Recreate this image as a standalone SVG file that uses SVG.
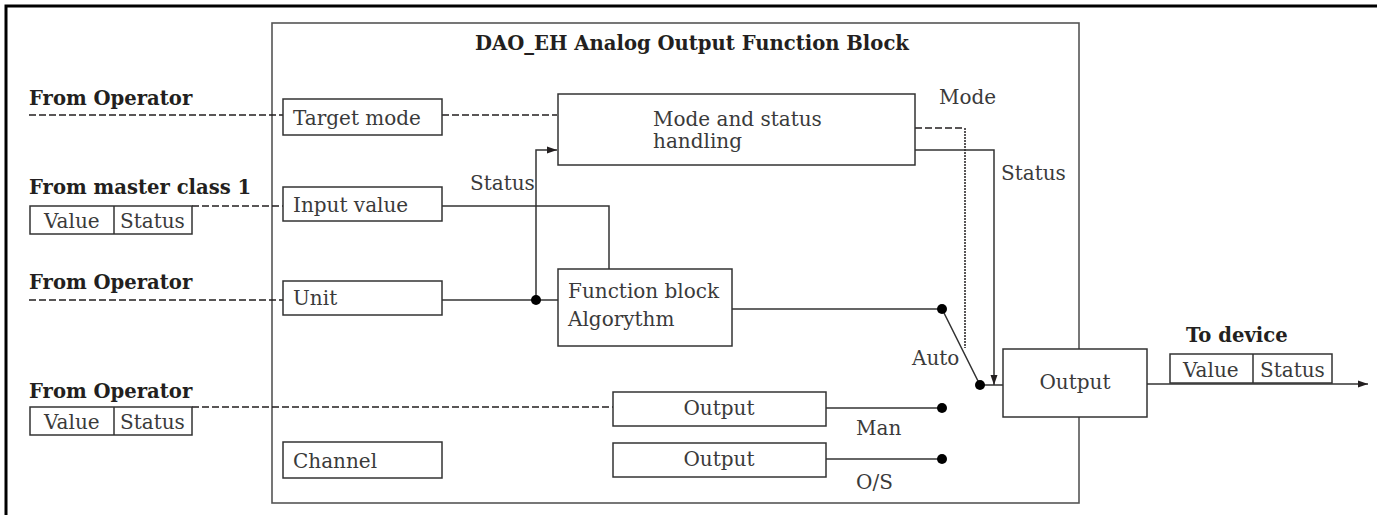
<svg xmlns="http://www.w3.org/2000/svg" width="1377" height="515" viewBox="0 0 1377 515">
<defs>
<marker id="arr" viewBox="0 0 10 10" refX="10" refY="5" markerWidth="11" markerHeight="10" markerUnits="userSpaceOnUse" orient="auto">
<path d="M0,1.5 L10,5 L0,8.5 Z" fill="#231f20"/>
</marker>
<style>
.bx{fill:#fff;stroke:#333;stroke-width:1.5}
.ln{fill:none;stroke:#333;stroke-width:1.5}
.ds{fill:none;stroke:#231f20;stroke-width:1.5;stroke-dasharray:7,3}
.dt{fill:none;stroke:#231f20;stroke-width:1.5;stroke-dasharray:2,1}
.t{font-family:"DejaVu Serif","Liberation Serif",serif;font-size:20px;fill:#3a3a3a}
.b{font-family:"DejaVu Serif","Liberation Serif",serif;font-size:19.6px;font-weight:bold;fill:#231f20}
.dot{fill:#000}
</style>
</defs>
<rect width="1377" height="515" fill="#fff"/>
<g id="frame">
<path d="M6,515 V6 H1377" fill="none" stroke="#000" stroke-width="3"/>
</g>
<g id="block">
<rect x="272" y="23" width="807" height="480" fill="none" stroke="#555" stroke-width="1.6"/>
<text class="b" x="475" y="50">DAO_EH Analog Output Function Block</text>
</g>
<g id="connectors">
<path class="ds" d="M29,115 H283"/>
<path class="ds" d="M442,115 H557"/>
<path class="ds" d="M192,206 H283"/>
<path class="ln" d="M442,206 H609 V269"/>
<path class="ds" d="M29,300 H283"/>
<path class="ln" d="M442,300 H558"/>
<path class="ln" d="M536,300 V150 H557" marker-end="url(#arr)"/>
<path class="ln" d="M732,309 H942 L980,385 H1003"/>
<path class="ds" d="M915,128 H965"/>
<path class="dt" d="M965,128 V348"/>
<path class="ln" d="M915,150 H994 V385" marker-end="url(#arr)"/>
<path class="ln" d="M1147,384 H1368" marker-end="url(#arr)"/>
<path class="ds" d="M192,407 H613"/>
<path class="ln" d="M826,408 H942"/>
<path class="ln" d="M826,459 H942"/>
<circle class="dot" cx="536" cy="300" r="5"/>
<circle class="dot" cx="942" cy="309" r="5"/>
<circle class="dot" cx="980" cy="385" r="5"/>
<circle class="dot" cx="942" cy="408" r="5"/>
<circle class="dot" cx="942" cy="459" r="5"/>
<text class="t" x="470" y="190">Status</text>
<text class="t" x="939" y="104">Mode</text>
<text class="t" x="1001" y="180">Status</text>
<text class="t" x="912" y="365">Auto</text>
<text class="t" x="856" y="435">Man</text>
<text class="t" x="856" y="489">O/S</text>
</g>
<g id="in1">
<text class="b" x="29" y="105">From Operator</text>
</g>
<g id="in2">
<text class="b" x="29" y="194">From master class 1</text>
<rect class="bx" x="30" y="206" width="162" height="28"/>
<line class="ln" x1="114" y1="206" x2="114" y2="234"/>
<text class="t" x="44" y="228">Value</text>
<text class="t" x="120" y="228">Status</text>
</g>
<g id="in3">
<text class="b" x="29" y="289">From Operator</text>
</g>
<g id="in4">
<text class="b" x="29" y="398">From Operator</text>
<rect class="bx" x="30" y="407" width="162" height="28"/>
<line class="ln" x1="114" y1="407" x2="114" y2="435"/>
<text class="t" x="44" y="429">Value</text>
<text class="t" x="120" y="429">Status</text>
</g>
<g id="target-mode">
<rect class="bx" x="283" y="99" width="159" height="36"/>
<text class="t" x="293" y="125">Target mode</text>
</g>
<g id="input-value">
<rect class="bx" x="283" y="187" width="159" height="34"/>
<text class="t" x="293" y="212">Input value</text>
</g>
<g id="unit">
<rect class="bx" x="283" y="281" width="159" height="34"/>
<text class="t" x="293" y="305">Unit</text>
</g>
<g id="channel">
<rect class="bx" x="283" y="442" width="159" height="36"/>
<text class="t" x="293" y="468">Channel</text>
</g>
<g id="mode-status">
<rect class="bx" x="558" y="94" width="357" height="71"/>
<text class="t" x="653" y="126">Mode and status</text>
<text class="t" x="653" y="148">handling</text>
</g>
<g id="function-block">
<rect class="bx" x="558" y="269" width="174" height="77"/>
<text class="t" x="568" y="298">Function block</text>
<text class="t" x="568" y="326">Algorythm</text>
</g>
<g id="output-man">
<rect class="bx" x="613" y="392" width="213" height="34"/>
<text class="t" x="719" y="415" text-anchor="middle">Output</text>
</g>
<g id="output-os">
<rect class="bx" x="613" y="443" width="213" height="34"/>
<text class="t" x="719" y="466" text-anchor="middle">Output</text>
</g>
<g id="output">
<rect class="bx" x="1003" y="349" width="144" height="68"/>
<text class="t" x="1075" y="389" text-anchor="middle">Output</text>
</g>
<g id="to-device">
<text class="b" x="1186" y="342">To device</text>
<rect class="bx" x="1170" y="354" width="162" height="29"/>
<line class="ln" x1="1253" y1="354" x2="1253" y2="383"/>
<text class="t" x="1183" y="377">Value</text>
<text class="t" x="1260" y="377">Status</text>
</g>
</svg>
